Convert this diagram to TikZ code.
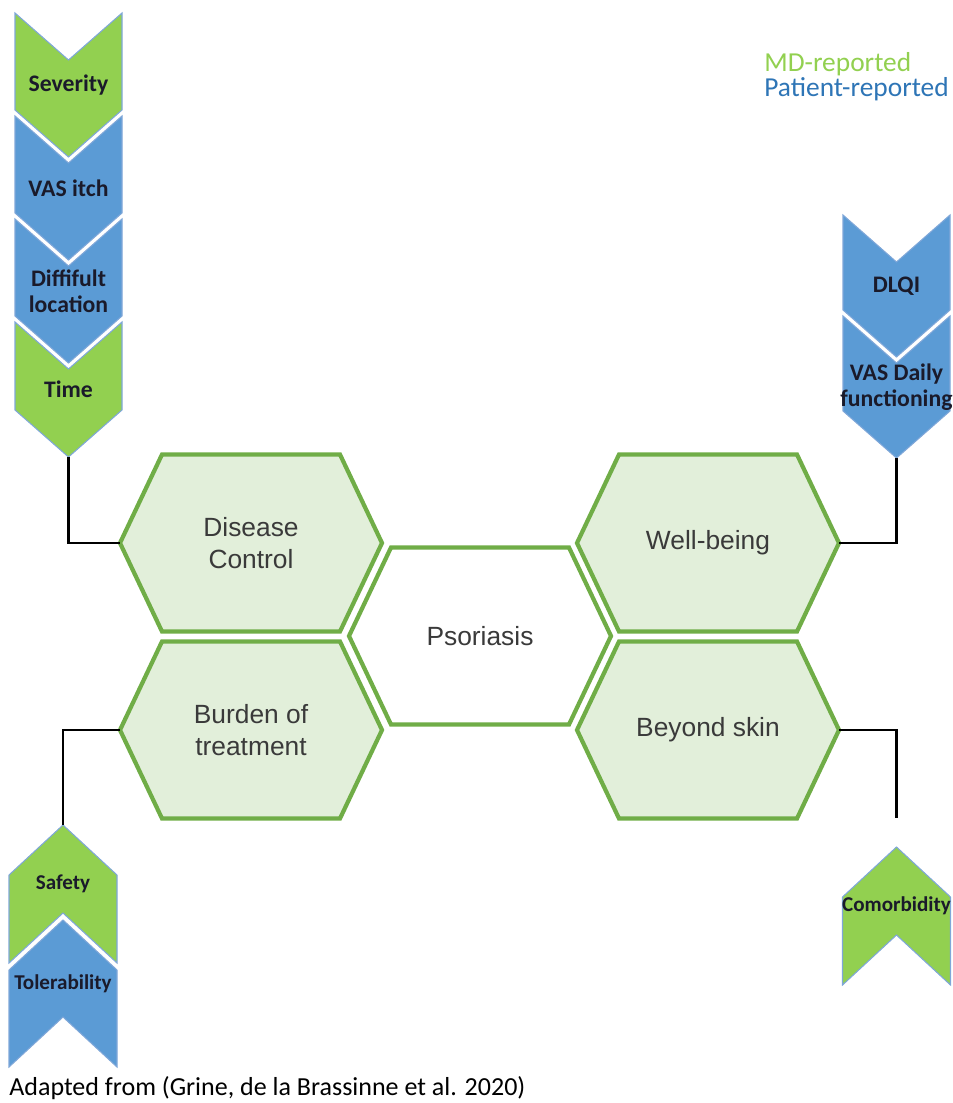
\documentclass[tikz,border=0pt]{standalone}
\usepackage{fontspec}
\setmainfont{Carlito}
\newfontfamily\arialfont{Liberation Sans}
\usepackage{tikz}
\usetikzlibrary{positioning}
\definecolor{mdgreen}{HTML}{92D050}
\definecolor{ptblue}{HTML}{5B9BD5}
\definecolor{ptdark}{HTML}{2E75B6}
\definecolor{chevedge}{HTML}{7FA7D9}
\definecolor{hexfill}{HTML}{E2EFDA}
\definecolor{hexedge}{HTML}{70AD47}
\definecolor{inktext}{HTML}{1A1A2A}
\definecolor{hextext}{HTML}{3A3A3A}

\tikzset{
  chevbox/.style={draw=chevedge, line width=0.6pt, line join=miter},
  chevlabel/.style={font=\bfseries\fontsize{13.5}{15}\selectfont, text=inktext, align=center, inner sep=0pt},
  smalltext/.style={font=\bfseries\fontsize{12}{13}\selectfont},
  hexbox/.style={draw=hexedge, line width=2.4pt, line join=miter},
  hexlabel/.style={font=\arialfont\fontsize{15}{18.5}\selectfont, text=hextext, align=center},
  legend/.style={anchor=west, font=\fontsize{15.6}{16}\selectfont, inner sep=0pt},
  link/.style={draw=black, line width=1.6pt},
}

% hexagon: [fill] name, cx, cy, text
\newcommand{\hexa}[5][hexfill]{%
  \begin{scope}[shift={(#3,#4)}]
    \filldraw[hexbox, fill=#1] (-131,0) -- (-89,-88.5) -- (89,-88.5) -- (131,0)
      -- (89,88.5) -- (-89,88.5) -- cycle;
    \coordinate (#2-w) at (-131,0);
    \coordinate (#2-e) at (131,0);
    \node[hexlabel] (#2) at (0,0) {#5};
  \end{scope}}

% chevron pointing down: name, colour, cx, top, height, text
\newcommand{\chevdown}[6]{%
  \begin{scope}[shift={(#3,#4)}]
    \filldraw[chevbox, fill=#2] (-53.5,0) -- (0,47) -- (53.5,0) -- (53.5,#5)
      -- (0,#5+47) -- (-53.5,#5) -- cycle;
    \coordinate (#1-tip) at (0,#5+47);
    \node[chevlabel] (#1) at (0,{(#5+47)/2}) {#6};
  \end{scope}}

% chevron pointing up: name, colour, cx, tip, height, text
\newcommand{\chevup}[6]{%
  \begin{scope}[shift={(#3,#4)}]
    \filldraw[chevbox, fill=#2] (0,0) -- (54,50) -- (54,50+#5) -- (0,#5)
      -- (-54,50+#5) -- (-54,50) -- cycle;
    \coordinate (#1-tip) at (0,0);
    \node[chevlabel, smalltext] (#1) at (0,{(50+#5)/2-10}) {#6};
  \end{scope}}

\begin{document}
\begin{tikzpicture}[x=0.02cm, y=-0.02cm]
    \useasboundingbox (0,0) rectangle (953,1103);

    % legend
    \node[legend, text=mdgreen] (md) at (764,64) {MD-reported};
    \node[legend, text=ptdark] (pt) at (764,89) {Patient-reported};

    % domains
    \hexa{dc}{251}{543}{Disease\\Control}
    \hexa{bot}{251}{730}{Burden of\\treatment}
    \hexa[white]{pso}{480}{636}{Psoriasis}
    \hexa{wb}{708}{543}{Well-being}
    \hexa{bs}{708}{730}{Beyond skin}

    % disease control measures
    \chevdown{sev}{mdgreen}{68.5}{13}{97}{Severity}
    \chevdown{itch}{ptblue}{68.5}{116}{97}{VAS itch}
    \chevdown{loc}{ptblue}{68.5}{219}{97}{Diffifult\\location}
    \chevdown{time}{mdgreen}{68.5}{322}{88}{Time}

    % well-being measures
    \chevdown{dlqi}{ptblue}{896.5}{215}{95}{DLQI}
    \chevdown{daily}{ptblue}{896.5}{316}{95}{VAS Daily\\functioning}

    % burden of treatment measures
    \chevup{safety}{mdgreen}{63}{825}{88}{Safety}
    \chevup{toler}{ptblue}{63}{920}{97}{Tolerability}

    % beyond skin measures
    \chevup{comorb}{mdgreen}{896.5}{847}{88}{Comorbidity}
    \coordinate (comorb-stub) at (896.5,818);

    % connectors
    \draw[link] (time-tip) |- (dc-w);
    \draw[link] (daily-tip) |- (wb-e);
    \draw[link] (bot-w) -| (safety-tip);
    \draw[link] (bs-e) -| (comorb-stub);

    % source
    \node[legend, font=\fontsize{14.8}{16}\selectfont] (src) at (9,1088)
      {Adapted from (Grine, de la Brassinne et al. 2020)};
\end{tikzpicture}
\end{document}
